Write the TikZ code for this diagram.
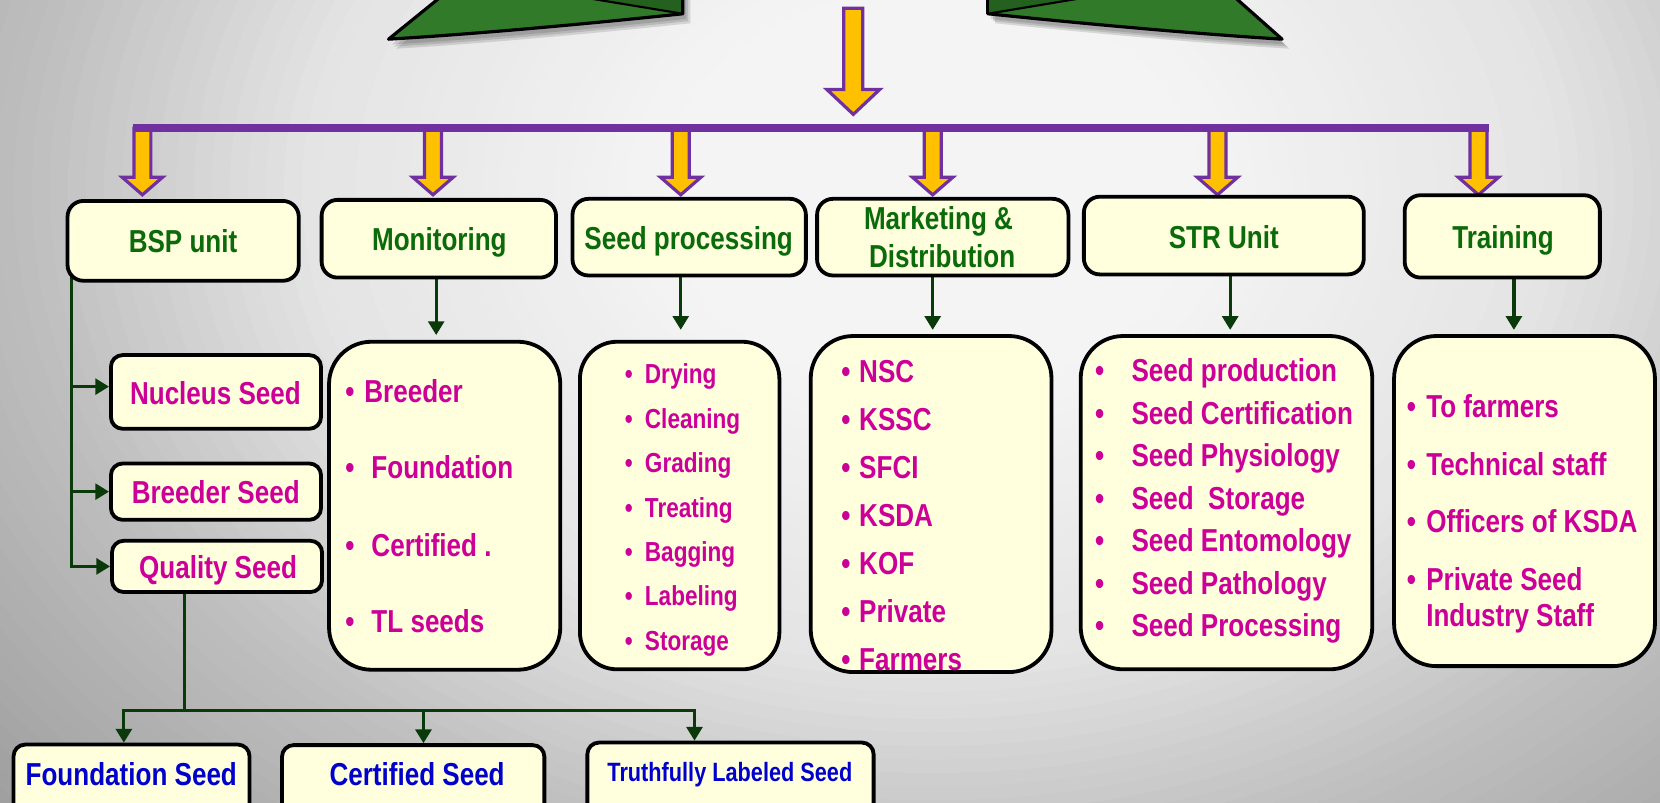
\documentclass[tikz,border=0pt]{standalone}
\usepackage{fontspec}
\setmainfont{Liberation Sans}[FakeStretch=0.82]
\usetikzlibrary{arrows.meta,fit}
\definecolor{boxfill}{HTML}{FFFFDD}
\definecolor{hdgreen}{HTML}{0B6B0B}
\definecolor{itemmag}{HTML}{CC0099}
\definecolor{seedblue}{HTML}{0000CC}
\definecolor{connlink}{HTML}{0A3A0A}
\definecolor{leafgreen}{HTML}{317A2A}
\definecolor{leafdark}{HTML}{24601E}
\definecolor{arrowyellow}{HTML}{FFC000}
\definecolor{arrowpurple}{HTML}{7030A0}
\pgfdeclarelayer{back}
\pgfdeclarelayer{links}
\pgfsetlayers{back,links,main}
\newcommand\fsz[1]{\fontsize{#1}{#1}\selectfont}
\newcommand\yblock[6]{\filldraw[yblockstyle] ({#1-#5},#2) -- ({#1-#5},#3) -- ({#1-#6},#3) -- (#1,#4) -- ({#1+#6},#3) -- ({#1+#5},#3) -- ({#1+#5},#2) -- cycle;}
\newcommand\bitem[6]{%
  \node[#5,anchor=base] (#1-b) at (#2,#4) {\textbullet};
  \node[#5,anchor=base west] (#1) at (#3,#4) {#6};}
\tikzset{
  hbox/.style={draw=black, line width=3.6pt, fill=boxfill, rounded corners=15pt, inner sep=-1.8pt},
  sbox/.style={hbox, rounded corners=11pt},
  lbox/.style={hbox, rounded corners=40pt},
  hdtext/.style={inner sep=0pt, anchor=base, text=hdgreen, font=\bfseries\fsz{30}},
  magtext/.style={inner sep=0pt, anchor=base, text=itemmag, font=\bfseries\fsz{30}},
  magsmall/.style={inner sep=0pt, anchor=base, text=itemmag, font=\bfseries\fsz{26}},
  bluetext/.style={inner sep=0pt, anchor=base, text=seedblue, font=\bfseries\fsz{30}},
  conn/.style={draw=connlink, line width=3pt},
  connarr/.style={conn, -{Triangle[width=15pt,length=13pt]}},
  yblockstyle/.style={fill=arrowyellow, draw=arrowpurple, line width=3pt, line join=miter},
  leaf/.style={fill=leafgreen, draw=black, line width=3pt, line join=round},
  leafshadow/.style={fill=black, opacity=0.12},
}
\begin{document}
\begin{tikzpicture}[x=1pt,y=-1pt]
\useasboundingbox (0,0) rectangle (1568,758);
\begin{pgfonlayer}{back}
  \clip (0,0) rectangle (1568,758);
  \fill[black!45] (0,0) rectangle (1568,758);
  \foreach \i in {0,...,80} {
    \pgfmathsetmacro\t{1.6-\i*0.02}
    \pgfmathsetmacro\v{\t<0.3 ? 244 : (\t<0.7 ? 244-(\t-0.3)*40 : (\t<1 ? 228-(\t-0.7)*120 : 192-(\t-1)*86.7))}
    \pgfmathsetmacro\pk{(255-\v)/2.55}
    \pgfmathsetmacro\rx{850*\t+0.01}
    \pgfmathsetmacro\ry{640*\t+0.01}
    \fill[black!\pk!white] (880,180) ellipse [x radius=\rx pt, y radius=\ry pt];
  }
\end{pgfonlayer}
\clip (0,0) rectangle (1568,758);

% green shapes at top
\foreach \s in {3,5,7} {
  \fill[leafshadow, xshift=\s pt, yshift=-\s pt-2pt] (367,37) -- (425,-10) -- (645,-10) -- (645,13) .. controls (550,23) and (450,32) .. (367,37) -- cycle;
  \fill[leafshadow, xshift=\s pt, yshift=-\s pt-2pt] (933,13) -- (933,-10) -- (1158,-10) -- (1211,37) .. controls (1130,32) and (1030,23) .. (933,13) -- cycle;
}
\filldraw[leaf] (367,37) -- (425,-10) -- (645,-10) -- (645,13) .. controls (550,23) and (450,32) .. (367,37) -- cycle;
\filldraw[fill=leafdark, draw=black, line width=2pt, line join=round] (645,13) -- (505,-10) -- (645,-10) -- cycle;
\filldraw[leaf] (933,13) -- (933,-10) -- (1158,-10) -- (1211,37) .. controls (1130,32) and (1030,23) .. (933,13) -- cycle;
\filldraw[fill=leafdark, draw=black, line width=2pt, line join=round] (933,13) -- (1071,-10) -- (933,-10) -- cycle;
\draw[black, line width=3pt] (645,-10) -- (645,13);
\draw[black, line width=3pt] (933,-10) -- (933,13);

% yellow block arrows and purple bar
\yblock{806}{7.8}{84.5}{108}{9}{25}
\yblock{134.5}{121}{167.5}{184}{8}{19}
\yblock{409}{121}{167.5}{184}{8}{19}
\yblock{643}{121}{167.5}{184}{8}{19}
\yblock{881}{121}{167.5}{184}{8}{19}
\yblock{1150}{121}{167.5}{184}{8}{19}
\yblock{1396.5}{121}{167.5}{184}{8}{19}
\draw[arrowpurple, line width=7.6pt] (126,120.9) -- (1406,120.9);

% header boxes
\node[hbox, fit={(62,188) (284,267)}] (bsp) {};
\node[hbox, fit={(302,187) (527,264)}] (mon) {};
\node[hbox, fit={(539,186) (763,262)}] (sproc) {};
\node[hbox, fit={(770,186) (1011,262)}] (mkt) {};
\node[hbox, fit={(1022,184) (1290,261)}] (str) {};
\node[hbox, fit={(1325,182.6) (1513,264)}] (trn) {};

% BSP sub boxes
\node[sbox, fit={(103,333.6) (305,406.8)}] (nuc) {};
\node[sbox, fit={(103,436) (305,492.8)}] (brd) {};
\node[sbox, fit={(104,509) (306,561)}] (qual) {};

% list boxes
\node[lbox, fit={(309,321) (531,634.4)}] (monl) {};
\node[lbox, rounded corners=35pt, fit={(546,321) (738,634)}] (sprl) {};
\node[lbox, fit={(764,315.6) (995,636.6)}] (mktl) {};
\node[lbox, fit={(1019,315.6) (1298,634)}] (strl) {};
\node[lbox, fit={(1315,315.6) (1565,631)}] (trnl) {};

% bottom boxes
\node[sbox, fit={(11,701.5) (237.5,800)}] (fnd) {};
\node[sbox, fit={(264.6,702) (516,800)}] (cert) {};
\node[sbox, fit={(553,699.6) (827,800)}] (tls) {};

% connectors
\begin{pgfonlayer}{links}
  \clip (0,0) rectangle (1568,758);
  \coordinate (bspx) at (67.5,0);
  \coordinate (nucin) at ([yshift=5pt]nuc.west);
  \draw[connarr] (bsp.center -| bspx) |- (qual.west);
  \draw[connarr] (nucin -| bspx) -- (nucin);
  \draw[connarr] (brd.west -| bspx) -- (brd.west);
  \coordinate (qx) at (174.6,0);
  \coordinate (qy) at (0,671);
  \coordinate (fx) at (117,0);
  \coordinate (cx) at (400,0);
  \coordinate (tx) at (656,0);
  \draw[conn] (qual.center -| qx) -- (qx |- qy);
  \draw[connarr] (qx |- qy) -| (fx |- fnd.north);
  \draw[connarr] (qx |- qy) -| (tx |- tls.north);
  \draw[connarr] (cx |- qy) -- (cx |- cert.north);
  \coordinate (mx) at (412,0);
  \coordinate (sx) at (643,0);
  \coordinate (kx) at (881,0);
  \coordinate (rx) at (1162,0);
  \coordinate (wx) at (1430,0);
  \draw[connarr, shorten >=4.5pt] (mon.center -| mx) -- (monl.north -| mx);
  \draw[connarr, shorten >=9.5pt] (sproc.center -| sx) -- (sprl.north -| sx);
  \draw[connarr, shorten >=4pt] (mkt.center -| kx) -- (mktl.north -| kx);
  \draw[connarr, shorten >=4pt] (str.center -| rx) -- (strl.north -| rx);
  \draw[connarr, shorten >=4pt] (trn.center -| wx) -- (trnl.north -| wx);
\end{pgfonlayer}

% header texts
\node[hdtext] (bsp-t) at (172.9,238.7) {BSP unit};
\node[hdtext] (mon-t) at (415,237) {Monitoring};
\node[hdtext] (sproc-t) at (650.5,235.5) {Seed processing};
\node[hdtext] (mkt-t1) at (886.5,216.6) {Marketing \&};
\node[hdtext] (mkt-t2) at (890,252.5) {Distribution};
\node[hdtext] (str-t) at (1156,234.6) {STR Unit};
\node[hdtext] (trn-t) at (1419.7,234.6) {Training};

% sub box texts
\node[magtext] (nuc-t) at (203.5,382.5) {Nucleus Seed};
\node[magtext] (brd-t) at (203.8,475.4) {Breeder Seed};
\node[magtext] (qual-t) at (206,546.3) {Quality Seed};

% bottom texts
\node[bluetext] (fnd-t) at (124,742.4) {Foundation Seed};
\node[bluetext] (cert-t) at (394,742.4) {Certified Seed};
\node[bluetext, font=\bfseries\fsz{25}] (tls-t) at (689.4,738.3) {Truthfully Labeled Seed};

% Monitoring list
\bitem{mi1}{330.6}{344}{380.3}{magtext}{Breeder}
\bitem{mi2}{330.6}{350.7}{451.8}{magtext}{Foundation}
\bitem{mi3}{330.6}{350.7}{525.2}{magtext}{Certified .}
\bitem{mi4}{330.6}{350.7}{597.6}{magtext}{TL seeds}

% Seed processing list
\bitem{si1}{594}{609}{362.7}{magsmall}{Drying}
\bitem{si2}{594}{609}{404.6}{magsmall}{Cleaning}
\bitem{si3}{594}{609}{446.5}{magsmall}{Grading}
\bitem{si4}{594}{609}{488.4}{magsmall}{Treating}
\bitem{si5}{594}{609}{530.3}{magsmall}{Bagging}
\bitem{si6}{594}{609}{572.2}{magsmall}{Labeling}
\bitem{si7}{594}{609}{614.1}{magsmall}{Storage}

% Marketing list
\bitem{ki1}{799}{811.4}{361.4}{magtext}{NSC}
\bitem{ki2}{799}{811.4}{406.65}{magtext}{KSSC}
\bitem{ki3}{799}{811.4}{451.9}{magtext}{SFCI}
\bitem{ki4}{799}{811.4}{497.15}{magtext}{KSDA}
\bitem{ki5}{799}{811.4}{542.4}{magtext}{KOF}
\bitem{ki6}{799}{811.4}{587.65}{magtext}{Private}
\bitem{ki7}{799}{811.4}{632.9}{magtext}{Farmers}

% STR list
\bitem{ri1}{1038.7}{1068.6}{360.5}{magtext}{Seed production}
\bitem{ri2}{1038.7}{1068.6}{400.65}{magtext}{Seed Certification}
\bitem{ri3}{1038.7}{1068.6}{440.8}{magtext}{Seed Physiology}
\bitem{ri4}{1038.7}{1068.6}{480.95}{magtext}{Seed~ Storage}
\bitem{ri5}{1038.7}{1068.6}{521.1}{magtext}{Seed Entomology}
\bitem{ri6}{1038.7}{1068.6}{561.25}{magtext}{Seed Pathology}
\bitem{ri7}{1038.7}{1068.6}{601.4}{magtext}{Seed Processing}

% Training list
\bitem{ti1}{1333.3}{1347}{394.2}{magtext}{To farmers}
\bitem{ti2}{1333.3}{1347}{448.7}{magtext}{Technical staff}
\bitem{ti3}{1333.3}{1347}{503.1}{magtext}{Officers of KSDA}
\bitem{ti4}{1333.3}{1347}{557.3}{magtext}{Private Seed}
\node[magtext, anchor=base west] (ti5) at (1347,591.9) {Industry Staff};
\end{tikzpicture}
\end{document}
